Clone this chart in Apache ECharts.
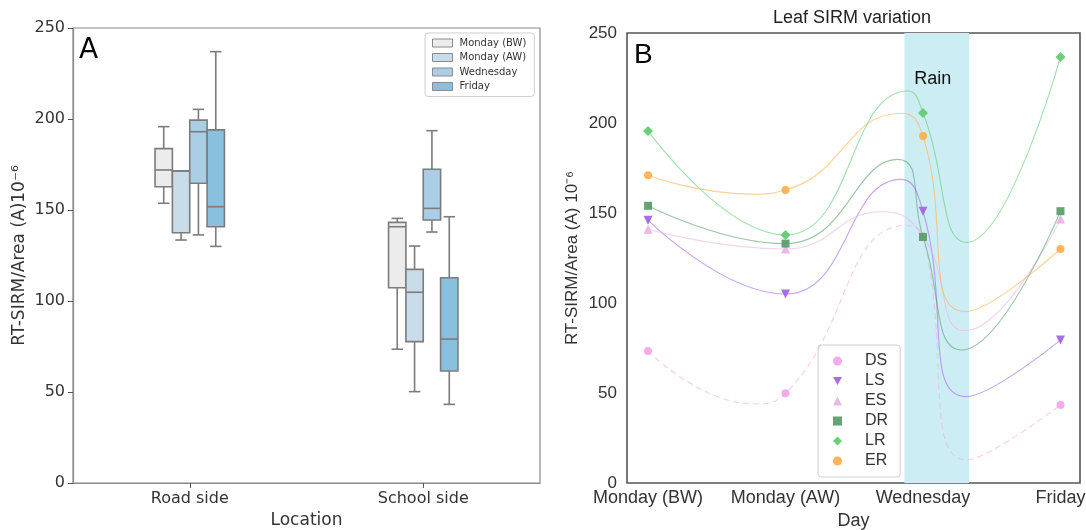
<!DOCTYPE html>
<html>
<head>
<meta charset="utf-8">
<script src="https://cdn.jsdelivr.net/npm/echarts@6/dist/echarts.min.js"></script>
<style>html,body{margin:0;padding:0;background:#fff}#c{width:1086px;height:530px}</style>
</head>
<body>
<div id="c"></div>
<script>
// ---------- Panel A data ----------
const locations = ['Road side', 'School side'];
const boxNames = ['Monday (BW)', 'Monday (AW)', 'Wednesday', 'Friday'];
// [min, Q1, median, Q3, max] for Road side, School side
const mondayBW = [[153.7, 162.8, 172.0, 183.7, 195.8], [73.5, 107.3, 140.8, 143.2, 145.4]];
const mondayAW = [[133.5, 137.5, 171.4, 171.4, 171.4], [50.2, 77.7, 104.8, 117.4, 130.2]];
const wednesdayBox = [[136.3, 164.7, 193.0, 199.4, 205.3], [137.9, 144.5, 150.9, 172.4, 193.6]];
const fridayBox = [[130.0, 140.8, 151.8, 194.0, 237.0], [43.2, 61.5, 79.1, 112.8, 146.3]];

// ---------- Panel B data ----------
const days = ['Monday (BW)', 'Monday (AW)', 'Wednesday', 'Friday'];
const dayPos = [0, 1, 2, 3];
const lineNames = ['DS', 'LS', 'ES', 'DR', 'LR', 'ER'];
const dsValues = [73.3, 49.8, 137, 43.3];
const lsValues = [146, 105, 151, 79.4];
const esValues = [141, 130, 137, 146.7];
const drValues = [154, 133, 136.7, 151];
const lrValues = [195.6, 137.8, 205.6, 236.7];
const erValues = [171, 162.8, 192.8, 130];
// unmarked curve turning points [x, value]
const dsCurve = [[0.77, 44], [1.88, 143], [2.318, 12.8]];
const lsCurve = [[1.84, 168.7], [2.313, 48]];
const esCurve = [[1.70, 150.7], [2.305, 84.6]];
const drCurve = [[1.816, 179.8], [2.28, 73.9]];
const lrCurve = [[1.893, 217.8], [2.318, 133.7]];
const erCurve = [[0.74, 160.5], [1.845, 205.4], [2.305, 95.2]];
const rainSpan = [1.865, 2.335];

const boxColors = ['#ececec', '#c8dcea', '#a9cee6', '#89c0de'];
const boxData = [mondayBW, mondayAW, wednesdayBox, fridayBox];
const lineColors = ['#f4a6e8', '#a266e6', '#e9b5e3', '#5c9e6b', '#62cc72', '#ffb152'];
const triDown = 'path://M0,0 L10,0 L5,9 Z';
const lineSymbols = ['circle', triDown, 'triangle', 'rect', 'diamond', 'circle'];
const lineSymbolSizes = [8, 9, 9, 8, 10, 8];
const lineVals = [dsValues, lsValues, esValues, drValues, lrValues, erValues];
const lineCurves = [dsCurve, lsCurve, esCurve, drCurve, lrCurve, erCurve];

const chart = echarts.init(document.getElementById('c'));

function makeBoxRender(k) {
  return function (params, api) {
    const cat = api.value(0);
    const band = api.size([1, 0])[0];
    const w = band * 0.0743;
    const cx = api.coord([cat, 0])[0] + (k - 1.5) * w;
    const y = [1, 2, 3, 4, 5].map(i => api.coord([cat, api.value(i)])[1]);
    const stroke = '#7c7c7c';
    const st = { stroke: stroke, lineWidth: 1.6, fill: null };
    const cap = w * 0.33;
    return {
      type: 'group',
      children: [
        { type: 'line', shape: { x1: cx, y1: y[0], x2: cx, y2: y[1] }, style: st },
        { type: 'line', shape: { x1: cx, y1: y[3], x2: cx, y2: y[4] }, style: st },
        { type: 'line', shape: { x1: cx - cap, y1: y[0], x2: cx + cap, y2: y[0] }, style: st },
        { type: 'line', shape: { x1: cx - cap, y1: y[4], x2: cx + cap, y2: y[4] }, style: st },
        { type: 'rect', shape: { x: cx - w / 2, y: y[3], width: w, height: y[1] - y[3] },
          style: { fill: boxColors[k], stroke: stroke, lineWidth: 1.6 } },
        { type: 'line', shape: { x1: cx - w / 2, y1: y[2], x2: cx + w / 2, y2: y[2] }, style: st }
      ]
    };
  };
}

const boxSeries = boxNames.map((name, k) => ({
  type: 'custom',
  name: name,
  xAxisIndex: 0,
  yAxisIndex: 0,
  itemStyle: { color: boxColors[k] },
  encode: { x: 0, y: [1, 2, 3, 4, 5] },
  data: boxData[k].map((v, i) => [i].concat(v)),
  renderItem: makeBoxRender(k),
  z: 3
}));

const lineSeries = lineNames.map((name, k) => {
  const pts = [];
  dayPos.forEach((x, i) => pts.push({ value: [x, lineVals[k][i]] }));
  lineCurves[k].forEach(p => pts.push({ value: p, symbol: 'none' }));
  pts.sort((a, b) => a.value[0] - b.value[0]);
  return {
    type: 'line',
    name: name,
    xAxisIndex: 1,
    yAxisIndex: 1,
    smooth: 0.5,
    data: pts,
    symbol: lineSymbols[k],
    symbolSize: lineSymbolSizes[k],
    showAllSymbol: true,
    itemStyle: { color: lineColors[k], opacity: 0.95 },
    lineStyle: { color: lineColors[k], width: 1.1, opacity: 0.6, type: k === 0 ? [6, 4] : 'solid' },
    z: 3 + k
  };
});

const rainSeries = {
  type: 'line',
  name: 'rain',
  xAxisIndex: 1,
  yAxisIndex: 1,
  data: [],
  z: 1,
  silent: true,
  markArea: {
    silent: true,
    itemStyle: { color: '#cdedf4' },
    label: { show: true, position: 'insideTop', distance: 37, fontSize: 18,
      fontFamily: 'Liberation Sans', color: '#111', offset: [-4, 0] },
    data: [[{ xAxis: rainSpan[0], name: 'Rain' }, { xAxis: rainSpan[1] }]]
  }
};

chart.setOption({
  animation: false,
  backgroundColor: '#fff',
  grid: [
    { left: 73, top: 28, width: 467, height: 455, show: true, borderColor: '#8a8a8a', borderWidth: 1.2,
      containLabel: false, outerBoundsMode: 'none' },
    { left: 627, top: 33, width: 453, height: 450, show: true, borderColor: '#555', borderWidth: 1.6,
      containLabel: false, outerBoundsMode: 'none' }
  ],
  xAxis: [
    {
      gridIndex: 0, type: 'category', data: locations,
      axisLine: { show: true, lineStyle: { color: '#8a8a8a', width: 1.2 } },
      axisTick: { show: true, alignWithLabel: true, length: 5, lineStyle: { color: '#555' } },
      axisLabel: { fontSize: 16, fontFamily: 'DejaVu Sans', color: '#333', margin: 8 },
      name: 'Location', nameLocation: 'middle', nameGap: 26,
      nameTextStyle: { fontSize: 17, fontFamily: 'DejaVu Sans', color: '#333' }
    },
    {
      gridIndex: 1, type: 'value', min: -0.153, max: 3.142,
      axisLine: { show: false }, axisTick: { show: false }, splitLine: { show: false },
      axisLabel: {
        customValues: dayPos, fontSize: 18, fontFamily: 'Liberation Sans', color: '#333', margin: 6,
        formatter: v => days[Math.round(v)], showMinLabel: true, showMaxLabel: true
      },
      name: 'Day', nameLocation: 'middle', nameGap: 28,
      nameTextStyle: { fontSize: 18, fontFamily: 'Liberation Sans', color: '#333' }
    }
  ],
  yAxis: [
    {
      gridIndex: 0, type: 'value', min: 0, max: 250, interval: 50,
      axisLine: { show: true, lineStyle: { color: '#8a8a8a', width: 1.2 } },
      axisTick: { show: true, length: 5, lineStyle: { color: '#555' } },
      splitLine: { show: false },
      axisLabel: { fontSize: 16, fontFamily: 'DejaVu Sans', color: '#333', margin: 8 },
      name: 'RT-SIRM/Area (A)10⁻⁶', nameLocation: 'middle', nameGap: 45,
      nameTextStyle: { fontSize: 17, fontFamily: 'DejaVu Sans', color: '#333' }
    },
    {
      gridIndex: 1, type: 'value', min: 0, max: 250, interval: 50,
      axisLine: { show: false }, axisTick: { show: false }, splitLine: { show: false },
      axisLabel: { fontSize: 17, fontFamily: 'Liberation Sans', color: '#333', margin: 10 },
      name: 'RT-SIRM/Area (A) 10⁻⁶', nameLocation: 'middle', nameGap: 46,
      nameTextStyle: { fontSize: 17, fontFamily: 'Liberation Sans', color: '#333' }
    }
  ],
  legend: [
    {
      data: boxNames.map((n, k) => ({ name: n, icon: 'rect', itemStyle: { color: boxColors[k], borderColor: '#8a8a8a', borderWidth: 1 } })),
      orient: 'vertical', left: 425, top: 33, itemWidth: 20, itemHeight: 8, itemGap: 2.5,
      padding: [4, 8, 4, 7], borderColor: '#cfcfcf', borderWidth: 1, borderRadius: 3,
      textStyle: { fontSize: 10, fontFamily: 'DejaVu Sans', color: '#333', lineHeight: 12, padding: [0, 0, 0, 2] },
      selectedMode: false
    },
    {
      data: lineNames.map((n, k) => ({ name: n, icon: lineSymbols[k], itemStyle: { color: lineColors[k] } })),
      orient: 'vertical', left: 818, top: 345, itemWidth: 9, itemHeight: 9, itemGap: 4,
      padding: [8, 12, 8, 15], borderColor: '#cfcfcf', borderWidth: 1, borderRadius: 3,
      textStyle: { fontSize: 16, fontFamily: 'Liberation Sans', color: '#333', lineHeight: 16, padding: [0, 0, 0, 18] },
      selectedMode: false
    }
  ],
  graphic: [
    { type: 'text', x: 79, y: 51, style: { text: 'A', fontSize: 28, fontFamily: 'DejaVu Sans', fill: '#000', textVerticalAlign: 'middle' } },
    { type: 'text', x: 634, y: 55, style: { text: 'B', fontSize: 28, fontFamily: 'Liberation Sans', fill: '#000', textVerticalAlign: 'middle' } },
    { type: 'text', x: 852, y: 18, style: { text: 'Leaf SIRM variation', fontSize: 18, fontFamily: 'Liberation Sans', fill: '#222', textAlign: 'center', textVerticalAlign: 'middle' } }
  ],
  series: [rainSeries].concat(boxSeries, lineSeries)
});
</script>
</body>
</html>
